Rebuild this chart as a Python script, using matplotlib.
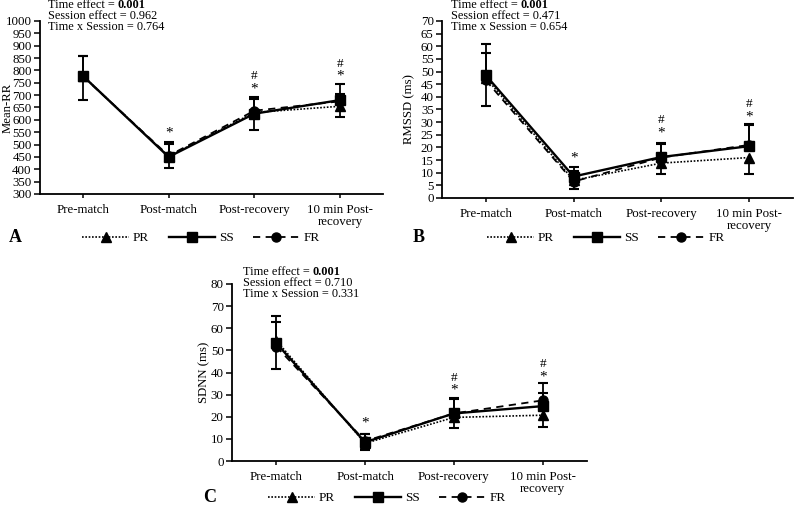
import matplotlib
matplotlib.use("Agg")
import matplotlib.pyplot as plt
import numpy as np

plt.rcParams['font.family'] = ['Liberation Serif', 'DejaVu Serif']

categories = ["Pre-match", "Post-match", "Post-recovery", "10 min Post-\nrecovery"]
series = ["PR", "SS", "FR"]

# Panel A: Mean-RR
A_PR = [778, 452, 630, 655]
A_PR_sd = [98, 47, 71, 42]          # drawn downward
A_SS = [778, 450, 625, 680]
A_SS_sd = [79, 62, 68, 67]          # drawn upward
A_FR = [776, 455, 637, 675]
A_FR_sd = [81, 48, 47, 28]          # drawn upward
A_star = [None, 545, 723, 777]
A_hash = [None, None, 777, 828]
A_stats = ["0.001", "0.962", "0.764"]

# Panel B: RMSSD
B_PR = [47.5, 7.0, 13.8, 16.0]
B_PR_sd = [11.2, 3.6, 4.4, 6.4]
B_SS = [48.5, 8.5, 16.2, 20.5]
B_SS_sd = [12.5, 3.8, 5.6, 8.6]
B_FR = [46.5, 6.5, 16.0, 21.0]
B_FR_sd = [10.8, 4.3, 5.3, 7.8]
B_star = [None, 15.8, 25.5, 32.0]
B_hash = [None, None, 30.7, 37.3]
B_stats = ["0.001", "0.471", "0.654"]

# Panel C: SDNN
C_PR = [54.4, 8.0, 19.7, 20.7]
C_PR_sd = [12.8, 3.2, 4.7, 5.3]
C_SS = [53.2, 8.5, 21.5, 24.8]
C_SS_sd = [9.7, 3.5, 7.1, 6.0]
C_FR = [51.7, 9.0, 21.5, 27.4]
C_FR_sd = [13.9, 3.0, 6.5, 8.0]
C_star = [None, 17.0, 32.0, 38.1]
C_hash = [None, None, 37.4, 43.7]
C_stats = ["0.001", "0.710", "0.331"]

W, H = 794, 508
fig = plt.figure(figsize=(W / 100, H / 100), dpi=100)


def rect(l, t, r, b):
    return [l / W, 1 - b / H, (r - l) / W, (b - t) / H]


styles = {
    "PR": dict(ls=(0, (1, 1)), lw=1.2, marker='^', ms=6.5),
    "SS": dict(ls='-', lw=1.7, marker='s', ms=6.5),
    "FR": dict(ls=(0, (4, 3)), lw=1.3, marker='o', ms=6.5),
}


def panel(axrect, data, ylim, ystep, ylabel, ylabel_x, star, hsh, stats, letter,
          letter_xy, legend_xy, stats_xy):
    ax = fig.add_axes(rect(*axrect))
    x = np.arange(len(categories))
    handles = []
    for name, (mean, sd, down) in zip(series, data):
        mean = np.array(mean, float)
        sd = np.array(sd, float)
        end = mean - sd if down else mean + sd
        ax.vlines(x, np.minimum(mean, end), np.maximum(mean, end),
                  color='black', lw=1.3, zorder=2)
        ax.plot(x, end, ls='none', marker='_', ms=7.5, mew=1.5,
                color='black', zorder=2)
        h, = ax.plot(x, mean, color='black', mfc='black', mec='black',
                     zorder=3, **styles[name])
        handles.append(h)
    for xi, s in enumerate(star):
        if s is not None:
            ax.text(xi, s, "*", ha='center', va='center', fontsize=11)
    for xi, s in enumerate(hsh):
        if s is not None:
            ax.text(xi, s, "#", ha='center', va='center', fontsize=9.5)
    ax.set_xlim(-0.5, 3.5)
    ax.set_ylim(*ylim)
    ax.set_yticks(np.arange(ylim[0], ylim[1] + ystep / 2, ystep))
    ax.set_xticks(x)
    ax.set_xticklabels(categories, fontsize=9.3, linespacing=1.0)
    ax.tick_params(axis='y', labelsize=9.3, length=4, width=1.1, pad=2)
    ax.tick_params(axis='x', length=3, width=1.1, pad=4)
    for sp in ['top', 'right']:
        ax.spines[sp].set_visible(False)
    for sp in ['left', 'bottom']:
        ax.spines[sp].set_linewidth(1.3)
    ax.set_ylabel(ylabel, fontsize=9.2)
    ax.yaxis.set_label_coords((ylabel_x - axrect[0]) / (axrect[2] - axrect[0]), 0.5)
    # stats text
    sx, sy = stats_xy
    fs = 8.8
    t1 = fig.text(sx / W, 1 - sy / H, "Time effect = ", fontsize=fs, va='center', ha='left')
    ax.annotate(stats[0], xy=(1, 0.5), xycoords=t1, va='center', ha='left',
                fontsize=fs, fontweight='bold', annotation_clip=False)
    fig.text(sx / W, 1 - (sy + 11) / H, "Session effect = " + stats[1], fontsize=fs, va='center', ha='left')
    fig.text(sx / W, 1 - (sy + 22) / H, "Time x Session = " + stats[2], fontsize=fs, va='center', ha='left')
    # letter
    fig.text(letter_xy[0] / W, 1 - letter_xy[1] / H, letter, fontsize=13,
             fontweight='bold', va='center', ha='left')
    fig.legend(handles, series, loc='center', ncol=3, frameon=False,
               bbox_to_anchor=(legend_xy[0] / W, 1 - legend_xy[1] / H),
               fontsize=9.5, handlelength=3.5, handletextpad=0.3,
               columnspacing=1.5, borderpad=0, borderaxespad=0)
    return ax


panel((40, 21, 383, 194),
      [(A_PR, A_PR_sd, True), (A_SS, A_SS_sd, False), (A_FR, A_FR_sd, False)],
      (300, 1000), 50, "Mean-RR", 14, A_star, A_hash, A_stats, "A",
      (9, 238), (201, 238), (48, 5))
panel((442, 21, 793, 198),
      [(B_PR, B_PR_sd, True), (B_SS, B_SS_sd, False), (B_FR, B_FR_sd, False)],
      (0, 70), 5, "RMSSD (ms)", 415, B_star, B_hash, B_stats, "B",
      (413, 237), (606, 238), (451, 5))
panel((232, 284, 587, 461),
      [(C_PR, C_PR_sd, True), (C_SS, C_SS_sd, False), (C_FR, C_FR_sd, False)],
      (0, 80), 10, "SDNN (ms)", 210, C_star, C_hash, C_stats, "C",
      (203, 498), (387, 498), (243, 272))

fig.savefig("out.png", dpi=100)
